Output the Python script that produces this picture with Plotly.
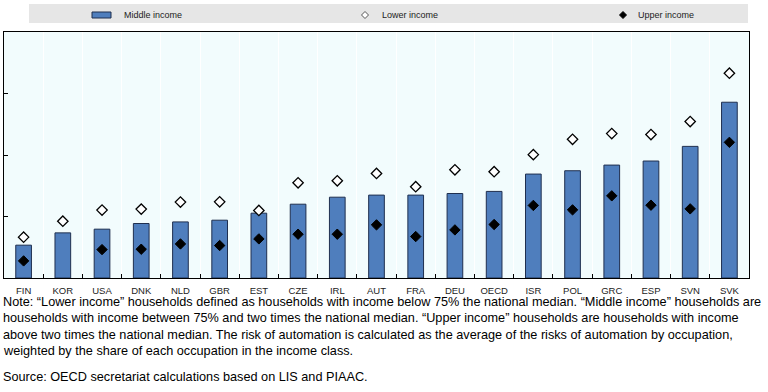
import plotly.graph_objects as go

countries = ["FIN", "KOR", "USA", "DNK", "NLD", "GBR", "EST", "CZE", "IRL", "AUT",
             "FRA", "DEU", "OECD", "ISR", "POL", "GRC", "ESP", "SVN", "SVK"]
middle_income = [2.67, 3.67, 3.97, 4.43, 4.56, 4.70, 5.27, 6.00, 6.57, 6.74,
                 6.74, 6.87, 7.04, 8.45, 8.72, 9.18, 9.51, 10.70, 14.29]
lower_income = [3.32, 4.62, 5.52, 5.60, 6.17, 6.19, 5.49, 7.74, 7.90, 8.50,
                7.42, 8.80, 8.64, 10.03, 11.28, 11.74, 11.66, 12.72, 16.65]
upper_income = [1.39, None, 2.31, 2.34, 2.77, 2.64, 3.18, 3.56, 3.56, 4.32,
                3.37, 3.91, 4.35, 5.90, 5.54, 6.68, 5.92, 5.62, 11.03]
y_ticks = [0, 5, 10, 15, 20]

legend_labels = ["Middle income", "Lower income", "Upper income"]
note_lines = [
    "Note: \u201cLower income\u201d households defined as households with income below 75% the national median. \u201cMiddle income\u201d households are",
    "households with income between 75% and two times the national median. \u201cUpper income\u201d households are households with income",
    "above two times the national median. The risk of automation is calculated as the average of the risks of automation by occupation,",
    "weighted by the share of each occupation in the income class.",
]
source_line = "Source: OECD secretariat calculations based on LIS and PIAAC."

W, H = 768, 392
L, R, T, B = 4, 19, 32, 114
PW, PH = W - L - R, H - T - B
BOTTOM = H - B

def px(x):
    return (x - L) / PW

def py(y):
    return (BOTTOM - y) / PH

FONT = "Liberation Sans, Arial, sans-serif"
NARROW = "Liberation Sans Narrow, Liberation Sans, Arial, sans-serif"
BAR_FILL = "#4F7EBD"
BAR_LINE = "#1F2F4F"

fig = go.Figure()
fig.add_trace(go.Bar(x=countries, y=middle_income, name=legend_labels[0],
                     marker=dict(color=BAR_FILL, line=dict(color=BAR_LINE, width=1)),
                     width=0.4, showlegend=False))
fig.add_trace(go.Scatter(x=countries, y=lower_income, mode="markers", name=legend_labels[1],
                         marker=dict(symbol="diamond", size=8, color="white",
                                     line=dict(color="black", width=1.3)),
                         showlegend=False))
fig.add_trace(go.Scatter(x=countries, y=upper_income, mode="markers", name=legend_labels[2],
                         marker=dict(symbol="diamond", size=8, color="black",
                                     line=dict(color="black", width=1)),
                         showlegend=False))

shapes = []
annotations = []
# legend band
shapes.append(dict(type="rect", xref="paper", yref="paper", x0=px(29), x1=px(748),
                   y0=py(23), y1=py(4), fillcolor="#E6E6E6", line=dict(width=0), layer="above"))
shapes.append(dict(type="rect", xref="paper", yref="paper", x0=px(92), x1=px(111),
                   y0=py(18), y1=py(12), fillcolor=BAR_FILL, line=dict(color=BAR_LINE, width=1)))

def diamond(cx, cy, r, fill, line):
    path = (f"M {px(cx)},{py(cy - r)} L {px(cx + r)},{py(cy)} L {px(cx)},{py(cy + r)} "
            f"L {px(cx - r)},{py(cy)} Z")
    return dict(type="path", xref="paper", yref="paper", path=path, fillcolor=fill,
                line=dict(color=line, width=1))

shapes.append(diamond(365, 15, 3.5, "white", "#555555"))
shapes.append(diamond(623, 15, 3.5, "black", "black"))

for txt, x0 in zip(legend_labels, [122, 380, 636]):
    annotations.append(dict(text=txt, xref="paper", yref="paper", x=px(x0), y=py(15),
                            xanchor="left", yanchor="middle", showarrow=False,
                            font=dict(family=NARROW, size=9, color="#222222")))

for txt, yc in zip(note_lines, [301.5, 318, 334.5, 351]):
    annotations.append(dict(text=txt, xref="paper", yref="paper", x=px(1), y=py(yc),
                            xanchor="left", yanchor="middle", showarrow=False,
                            font=dict(family=FONT, size=12.7, color="#000000")))
annotations.append(dict(text=source_line, xref="paper", yref="paper", x=px(1), y=py(376.5),
                        xanchor="left", yanchor="middle", showarrow=False,
                        font=dict(family=FONT, size=12.7, color="#000000")))

fig.update_layout(
    width=W, height=H,
    margin=dict(l=L, r=R, t=T, b=B, pad=0, autoexpand=False),
    paper_bgcolor="white",
    plot_bgcolor="#F2FCFD",
    bargap=0.6,
    shapes=shapes,
    annotations=annotations,
    showlegend=False,
    xaxis=dict(type="category", tickson="boundaries", ticks="inside", ticklen=4,
               tickcolor="black", tickwidth=1, showline=True, linecolor="black",
               linewidth=1, mirror=True, showgrid=True, gridcolor="white", gridwidth=1,
               tickangle=0, automargin=False, range=[-0.5, len(countries) - 0.5],
               tickfont=dict(family=NARROW, size=9.5, color="#222222"),
               ticklabelstandoff=4, fixedrange=True),
    yaxis=dict(range=[0, 20], tickvals=y_ticks, ticks="inside", ticklen=4,
               tickcolor="black", tickwidth=1, showline=True, linecolor="black",
               linewidth=1, mirror=True, showgrid=False, showticklabels=False,
               zeroline=False, fixedrange=True, automargin=False),
)

fig.write_html("out.html", config={"displayModeBar": False},
               post_script="document.body.style.margin='0';document.body.style.padding='0';")
